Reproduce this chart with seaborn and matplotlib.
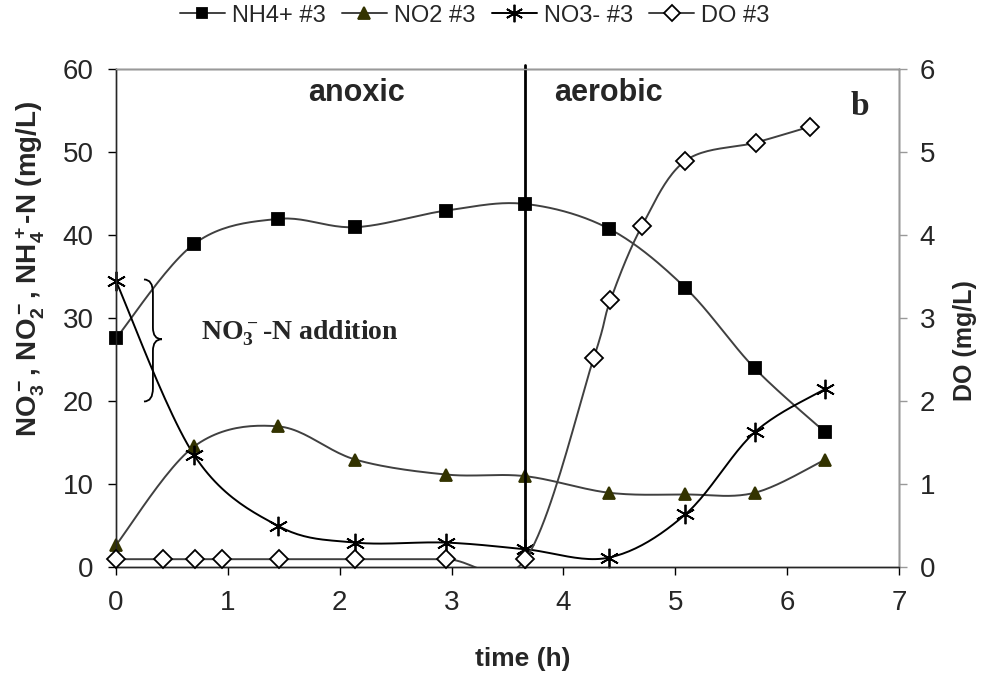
import numpy as np
import pandas as pd
import matplotlib
matplotlib.use("Agg")
import matplotlib.pyplot as plt
import seaborn as sns
from matplotlib.lines import Line2D
from matplotlib.path import Path
from matplotlib.patches import PathPatch

# valeurs
t_n = [0, 0.70, 1.45, 2.14, 2.95, 3.66, 4.41, 5.09, 5.71, 6.34]
nh4 = [27.6, 39.0, 42.0, 41.0, 43.0, 43.8, 40.8, 33.7, 24.0, 16.3]
no2 = [2.7, 14.6, 17.0, 13.0, 11.2, 11.0, 9.0, 8.8, 9.0, 13.0]
no3 = [34.5, 13.5, 5.0, 3.0, 3.0, 2.2, 1.2, 6.4, 16.3, 21.5]

t_do = [0, 0.42, 0.71, 0.95, 1.46, 2.14, 2.95, 3.66, 4.27, 4.42, 4.70, 5.09, 5.72, 6.20]
do = [0.1, 0.1, 0.1, 0.1, 0.1, 0.1, 0.1, 0.1, 2.52, 3.22, 4.11, 4.90, 5.12, 5.31]


def lisse(x, y, n=25):
    # courbe lissée façon Excel (bezier)
    p = np.column_stack([x, y]).astype(float)
    out = []
    for i in range(len(p) - 1):
        p0 = p[max(i - 1, 0)]
        p1, p2 = p[i], p[i + 1]
        p3 = p[min(i + 2, len(p) - 1)]
        c1 = p1 + (p2 - p0) / 6
        c2 = p2 - (p3 - p1) / 6
        s = np.linspace(0, 1, n)[:, None]
        out.append((1 - s) ** 3 * p1 + 3 * (1 - s) ** 2 * s * c1 + 3 * (1 - s) * s ** 2 * c2 + s ** 3 * p2)
    c = np.vstack(out)
    return pd.DataFrame({"x": c[:, 0], "y": c[:, 1]})


sns.set_style("white")
plt.rcParams["font.family"] = ["Liberation Sans", "DejaVu Sans"]
plt.rcParams["mathtext.default"] = "regular"

fig = plt.figure(figsize=(9.89, 6.78), dpi=100)
ax = fig.add_axes([0.1173, 0.163, 0.7917, 0.7345])
ax2 = ax.twinx()

gris = "#404040"
series = [
    (t_n, nh4, ax, gris, "s", "black", "black", 8, "NH4+ #3"),
    (t_n, no2, ax, gris, "^", "#333300", "#333300", 9, "NO2 #3"),
    (t_n, no3, ax, "black", (6, 2, 0), "black", "black", 14, "NO3- #3"),
    (t_do, do, ax2, gris, "D", "white", "black", 9, "DO #3"),
]
handles = []
for x, y, a, lc, m, fc, ec, ms, lab in series:
    d = lisse(x, y)
    sns.lineplot(data=d, x="x", y="y", ax=a, color=lc, lw=1.4, sort=False, estimator=None)
    a.plot(x, y, ls="none", marker=m, ms=ms, mfc=fc, mec=ec, mew=1.3, zorder=5, clip_on=False)
    handles.append(Line2D([0], [0], color=lc, lw=1.4, marker=m, ms=ms * 0.9, mfc=fc, mec=ec, mew=1.3))

ax.set_xlim(0, 7)
ax.set_ylim(0, 60)
ax2.set_ylim(0, 6)
ax.set_xticks(range(8))
ax.set_yticks(range(0, 61, 10))
ax2.set_yticks(range(7))

for a in (ax, ax2):
    a.tick_params(labelsize=20, length=6, width=1, direction="out", color="black")
    a.set_xlabel("")
    for s in a.spines.values():
        s.set_linewidth(1)
ax.spines["left"].set_color("#333333")
ax.spines["bottom"].set_color("black")
ax2.spines["top"].set_color("#999999")
ax2.spines["right"].set_color("#999999")
ax.tick_params(axis="x", bottom=True, pad=10)
ax.tick_params(axis="y", left=True, pad=10)
ax2.tick_params(axis="y", right=True, pad=9, color="#999999")

ax.set_xlabel("time (h)", fontsize=19, fontweight="bold")
ax.set_ylabel("NO$_3^-$, NO$_2^-$, NH$_4^+$-N (mg/L)", fontsize=20, fontweight="bold")
ax2.set_ylabel("DO (mg/L)", fontsize=18, fontweight="bold")
ax.xaxis.set_label_coords(0.52, -0.16)
ax.yaxis.set_label_coords(-0.088, 0.6)
ax2.yaxis.set_label_coords(1.069, 0.455)

ax.axvline(3.66, ymin=0, ymax=1.01, color="black", lw=2, clip_on=False, zorder=6)
ax.text(2.15, 57.2, "anoxic", fontsize=22, fontweight="bold", family="Liberation Sans", ha="center", va="center")
ax.text(4.40, 57.2, "aerobic", fontsize=22, fontweight="bold", family="Liberation Sans", ha="center", va="center")
ax.text(6.65, 55.5, "b", fontsize=24, fontweight="bold", family="Liberation Serif", ha="center", va="center")
ax.text(1.64, 28.2, "NO$_3^-$-N addition", fontsize=20, fontweight="bold", family="Liberation Serif",
        ha="center", va="center")

# accolade
bx, by = [0.25, 0.33, 0.41], [34.7, 27.5, 20.0]
verts = [(bx[0], by[0]), (bx[1], by[0]), (bx[1], by[0] - 1.6),
         (bx[1], by[1] + 1.4), (bx[1], by[1]), (bx[2], by[1]),
         (bx[1], by[1]), (bx[1], by[1] - 1.4),
         (bx[1], by[2] + 1.6), (bx[1], by[2]), (bx[0], by[2])]
codes = [Path.MOVETO, Path.CURVE3, Path.CURVE3, Path.LINETO, Path.CURVE3, Path.CURVE3,
         Path.CURVE3, Path.CURVE3, Path.LINETO, Path.CURVE3, Path.CURVE3]
ax.add_patch(PathPatch(Path(verts, codes), fill=False, lw=1.3, color="black", zorder=4))

fig.legend(handles, ["NH4+ #3", "NO2 #3", "NO3- #3", "DO #3"], loc="center", bbox_to_anchor=(0.48, 0.977),
           ncol=4, frameon=False, fontsize=17, handlelength=1.9, handletextpad=0.3, columnspacing=0.7)

fig.savefig("out.png", dpi=100)
